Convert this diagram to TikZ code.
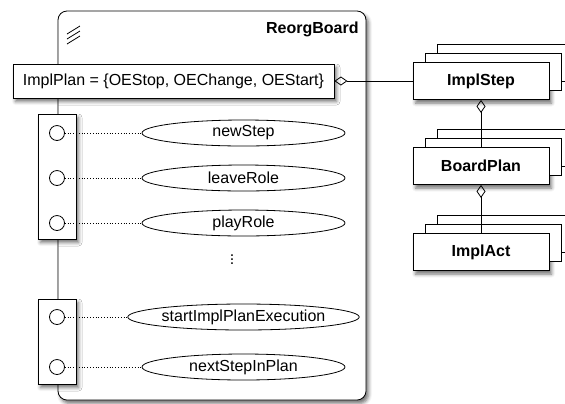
\documentclass[tikz,border=0pt]{standalone}
\usepackage{fontspec}
\setmainfont{Liberation Sans}
\usetikzlibrary{shapes.geometric,shadows,shadows.blur,arrows.meta}

\newcommand{\labelfont}{\fontsize{16bp}{19bp}\selectfont}

\begin{document}
\begin{tikzpicture}[x=1bp,y=-1bp,line width=0.8bp,font=\labelfont,
    shadowed/.style={blur shadow={shadow xshift=2.5bp,shadow yshift=-3.5bp,shadow blur radius=3.5bp,shadow opacity=55}},
    box/.style={draw,fill=white,inner sep=0pt,shadowed},
    port/.style={circle,draw,fill=white,minimum size=15bp,inner sep=0pt},
    opnode/.style={ellipse,draw,fill=white,minimum height=26bp,inner sep=0pt},
    classbox/.style={box,double copy shadow={shadow xshift=12bp,shadow yshift=9bp,line width=0.8bp},
        minimum width=136bp,minimum height=37bp,font=\labelfont\bfseries},
    agg/.style={{Diamond[open,length=13bp,width=9bp]}-}]
   \useasboundingbox (0,0) rectangle (565,403);
   % the board
   \node [box,rounded corners=9bp,minimum width=308bp,minimum height=389bp]
   (board) at (212,205.5) {};
   \node [anchor=base east,inner sep=0pt,font=\labelfont\bfseries] (title) at (359,33) {ReorgBoard};
   \foreach \d in {0,5,10}
       \draw (67,34+\d) -- (80,26+\d);
   % the plan attribute
   \node [box,minimum width=321bp,minimum height=34bp] (plan) at (173.5,81)
   {ImplPlan = \{OEStop, OEChange, OEStart\}};
   % the two port groups
   \node [box,minimum width=38bp,minimum height=125bp] (portsA) at (57,176.5) {};
   \node [box,minimum width=38bp,minimum height=85bp] (portsB) at (57,341.5) {};
   % ports and their operations
   \foreach \name/\txt/\y/\w in {newstep/newStep/133/203bp,
       leaverole/leaveRole/178/203bp, playrole/playRole/223/203bp,
       startexec/startImplPlanExecution/317/226bp, nextstep/nextStepInPlan/367/203bp} {
       \node [port] (p-\name) at (57,\y) {};
       \node [opnode,minimum width=\w] (\name) at (243.5,\y) {\txt};
       \draw [dotted] (p-\name) -- (\name);}
   \node (more) at (232,257) {$\vdots$};
   % the classes on the right
   \node [classbox] (implstep) at (481,81) {ImplStep};
   \node [classbox] (boardplan) at (481,166) {BoardPlan};
   \node [classbox] (implact) at (481,252) {ImplAct};
   \draw [agg] (plan.east) -- (implstep.west);
   \draw [agg] (implstep.south) -- (boardplan.north);
   \draw [agg] (boardplan.south) -- (implact.north);
\end{tikzpicture}
\end{document}
